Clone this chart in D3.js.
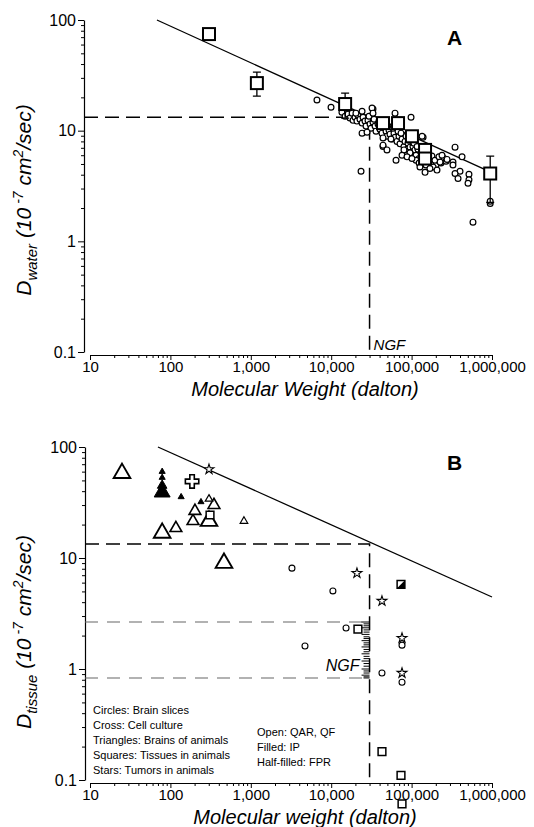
<!DOCTYPE html>
<html>
<head>
<meta charset="utf-8">
<script src="https://cdn.jsdelivr.net/npm/d3@7"></script>
<style>
  body { margin: 0; background: #fff; }
  svg { display: block; }
  text { font-family: "Liberation Sans", Arial, Helvetica, sans-serif; fill: #000; }
</style>
</head>
<body>
<div id="chart"></div>
<script>
// ---- data ----
const xTicks = [10, 100, 1000, 10000, 100000, 1000000];
const yTicks = [0.1, 1, 10, 100];

// straight line drawn through the water data (same in both panels)
const fitLineA = [[68, 100], [850000, 4.4]];
const fitLineB = [[70, 100], [1000000, 4.45]];

// NGF reference
const ngfMW = 30000;
const ngfDwater = 13.2;
const ngfDtissue = 13.4;
const ngfTissueBounds = [2.65, 0.83];
const ngfTissueValues = [2.65, 2.55, 2.45, 2.35, 2.25, 2.15, 2.05, 1.95, 1.88, 1.8, 1.72, 1.65,
  1.58, 1.5, 1.43, 1.37, 1.3, 1.24, 1.18, 1.12, 1.06, 1.0, 0.96, 0.92, 0.88, 0.85, 0.83];

// panel A: averaged water values with error bars [mw, D, hi, lo]
const waterSquares = [
  [302, 74.6, null, null],
  [1190, 26.9, 33.8, 20.5],
  [14900, 17.4, 21.8, 13.0],
  [44100, 11.7, null, null],
  [67800, 11.7, 13.2, null],
  [101000, 8.9, null, null],
  [147000, 6.7, null, null],
  [147000, 5.6, null, null],
  [950000, 4.1, 5.9, 2.25]
];

// panel A: individual water values [mw, D]
const waterCircles = [
  [6650, 18.9], [9950, 16.3], [13600, 14.7], [14900, 13.5], [16200, 14.1], [17100, 13.0],
  [18200, 14.4], [18700, 12.4], [19800, 13.2], [20900, 12.2], [21500, 13.8], [22800, 12.7],
  [24200, 11.7], [24900, 13.2], [26300, 12.2], [27100, 11.0], [28700, 12.4], [30400, 11.5],
  [31300, 10.5], [33100, 11.9], [35100, 11.0], [36100, 9.9], [38200, 11.5], [40400, 10.3],
  [42800, 9.5], [45400, 10.8], [48100, 9.9], [49400, 8.9], [52400, 10.1], [53900, 9.3],
  [57100, 8.4], [60400, 9.5], [62200, 8.7], [65800, 8.0], [69700, 8.9], [71800, 7.6],
  [76000, 8.4], [80400, 7.2], [82800, 8.0], [87700, 6.8], [90200, 7.7], [95500, 7.1],
  [101000, 6.4], [104000, 7.2], [110000, 6.7], [113500, 6.0], [120000, 6.8], [124000, 5.6],
  [131000, 6.3], [139000, 5.8], [143000, 5.2], [156000, 5.4], [165000, 5.0], [174000, 5.6],
  [185000, 5.2], [201000, 4.9], [213000, 5.4], [232000, 5.1], [253000, 5.6], [268000, 5.3],
  [20300, 14.4], [29500, 13.5], [34100, 12.7], [39300, 12.2], [46700, 11.5], [50900, 11.0],
  [58700, 10.5], [67800, 9.9], [73900, 9.5], [85300, 8.9], [93000, 8.2], [107000, 7.7],
  [117000, 7.2], [135000, 6.8], [151000, 6.4], [160000, 6.0], [179000, 5.9], [195000, 5.4],
  [219000, 5.8], [239000, 6.0], [80400, 6.7], [95500, 6.3], [113500, 5.4], [124000, 5.1],
  [151000, 4.9],
  [23500, 4.3], [62200, 14.4], [98400, 13.2], [33100, 15.7], [32200, 16.0], [33100, 14.4],
  [24200, 15.0], [24200, 9.5], [27900, 9.7], [139000, 8.7], [135000, 8.9], [44100, 7.2],
  [44100, 7.4], [49400, 6.7], [64000, 5.4], [76000, 6.0], [87700, 5.8], [101000, 5.6],
  [127000, 4.7], [147000, 4.2], [185000, 4.7], [226000, 5.2], [276000, 5.5], [207000, 4.4],
  [169000, 4.55], [55400, 8.4], [44100, 8.6],
  [347000, 7.1], [424000, 5.8], [327000, 5.2], [327000, 4.9], [400000, 4.3], [347000, 4.1],
  [378000, 3.7], [517000, 4.04], [517000, 3.6], [503000, 3.35], [580000, 1.49],
  [950000, 2.2], [950000, 2.3]
];

// panel B: tissue values by symbol [mw, D]
const openTriLarge = [[25, 58], [79, 16.8], [302, 21.5], [464, 9.0]];
const openTriMid = [[117, 18.6], [191, 21.5], [202, 26.5], [348, 30]];
const openTriSmall = [[302, 34], [822, 21.5]];
const filledTriLarge = [[79, 39]];
const filledTriMid = [[79, 45]];
const filledTriSmall = [[79, 53], [79, 60], [136, 35.5], [240, 32]];
const crosses = [[186, 49]];
const stars = [[302, 63], [20900, 7.3], [42800, 4.1], [76000, 1.9], [76000, 0.92]];
const circlesB = [[3250, 8.1], [10500, 5.05], [15300, 2.34], [4720, 1.61], [76000, 1.64],
  [42800, 0.92], [76000, 0.76]];
const openSquaresB = [[311, 24.4], [21500, 2.29], [42800, 0.18], [73800, 0.11], [76000, 0.061]];
const halfSquaresB = [[73800, 5.8]];

const legendShapes = ["Circles: Brain slices", "Cross: Cell culture", "Triangles: Brains of animals",
  "Squares:  Tissues in animals", "Stars: Tumors in animals"];
const legendFills = ["Open: QAR, QF", "Filled: IP", "Half-filled: FPR"];

// ---- layout ----
const width = 534, height = 827;
const svg = d3.select('#chart').append('svg')
  .attr('width', width).attr('height', height);
svg.append('rect').attr('width', width).attr('height', height).attr('fill', '#fff');

const x = d3.scaleLog().domain([10, 1e6]).range([90, 492]);
const yA = d3.scaleLog().domain([0.1, 100]).range([352, 20]);
const yB = d3.scaleLog().domain([0.1, 100]).range([780, 447]);

const minorX = [], minorY = [];
xTicks.slice(0, -1).forEach(t => { for (let k = 2; k < 10; k++) minorX.push(t * k); });
yTicks.slice(0, -1).forEach(t => { for (let k = 2; k < 10; k++) minorY.push(t * k); });

function drawAxes(y, axisX, axisY) {
  const fmt = d3.format(',');
  const yg = svg.append('g').attr('transform', `translate(${axisX},0)`)
    .call(d3.axisLeft(y).tickValues(yTicks).tickFormat(d => d < 1 ? '0.1' : fmt(d))
      .tickSize(6).tickSizeOuter(0).tickPadding(2));
  svg.append('g').attr('transform', `translate(${axisX},0)`)
    .call(d3.axisLeft(y).tickValues(minorY).tickFormat('').tickSize(3).tickSizeOuter(0))
    .select('.domain').remove();
  const xg = svg.append('g').attr('transform', `translate(0,${axisY})`)
    .call(d3.axisBottom(x).tickValues(xTicks).tickFormat(fmt).tickSize(5).tickSizeOuter(0).tickPadding(1));
  svg.append('g').attr('transform', `translate(0,${axisY})`)
    .call(d3.axisBottom(x).tickValues(minorX).tickFormat('').tickSize(3).tickSizeOuter(0))
    .select('.domain').remove();
  yg.selectAll('text').style('font-size', '16px').attr('font-family', null);
  xg.selectAll('text').style('font-size', '15px').attr('font-family', null);
  [yg, xg].forEach(g => g.selectAll('path, line').attr('stroke', '#000').attr('stroke-width', 1.2));
  svg.selectAll('.tick line').attr('stroke-width', 1);
}

function yTitle(cx, cy, sub) {
  const t = svg.append('text')
    .attr('transform', `translate(${cx},${cy}) rotate(-90)`)
    .attr('text-anchor', 'middle')
    .style('font-size', '21px').style('font-style', 'italic');
  t.append('tspan').text('D');
  t.append('tspan').attr('dy', 6).style('font-size', '15px').text(sub);
  t.append('tspan').attr('dy', -6).text(' (10');
  t.append('tspan').attr('dy', -8).style('font-size', '14px').text(' -7');
  t.append('tspan').attr('dy', 8).text(' cm');
  t.append('tspan').attr('dy', -8).style('font-size', '14px').text('2');
  t.append('tspan').attr('dy', 8).text('/sec)');
}

function xTitle(y0, label) {
  svg.append('text').attr('x', 305).attr('y', y0).attr('text-anchor', 'middle')
    .style('font-size', '20px').style('font-style', 'italic').text(label);
}

const line = y => d3.line().x(d => x(d[0])).y(d => y(d[1]));

// ================= panel A =================
drawAxes(yA, 84, 355);
yTitle(31, 200, 'water');
xTitle(396, 'Molecular Weight (dalton)');
svg.append('text').attr('x', 447).attr('y', 45).style('font-size', '21px')
  .style('font-weight', 'bold').text('A');

svg.append('path').datum(fitLineA).attr('d', line(yA))
  .attr('fill', 'none').attr('stroke', '#000').attr('stroke-width', 1.3);

svg.append('path')
  .attr('d', `M${84},${yA(ngfDwater)}H${x(ngfMW)}V${355}`)
  .attr('fill', 'none').attr('stroke', '#000').attr('stroke-width', 1.5)
  .attr('stroke-dasharray', '14,7');
svg.append('text').attr('x', x(ngfMW) + 4).attr('y', 350)
  .style('font-size', '15px').style('font-style', 'italic').text('NGF');

svg.append('g').selectAll('circle').data(waterCircles).enter().append('circle')
  .attr('cx', d => x(d[0])).attr('cy', d => yA(d[1])).attr('r', 2.9)
  .attr('fill', '#fff').attr('stroke', '#000').attr('stroke-width', 1.2);

const sq = svg.append('g').selectAll('g').data(waterSquares).enter().append('g');
sq.filter(d => d[2] !== null).append('path')
  .attr('d', d => `M${x(d[0])},${yA(d[1])}V${yA(d[2])}M${x(d[0]) - 4},${yA(d[2])}h8`)
  .attr('stroke', '#000').attr('stroke-width', 1.3);
sq.filter(d => d[3] !== null).append('path')
  .attr('d', d => `M${x(d[0])},${yA(d[1])}V${yA(d[3])}M${x(d[0]) - 4},${yA(d[3])}h8`)
  .attr('stroke', '#000').attr('stroke-width', 1.3);
sq.append('rect')
  .attr('x', d => x(d[0]) - 6).attr('y', d => yA(d[1]) - 6).attr('width', 12).attr('height', 12)
  .attr('fill', '#fff').attr('stroke', '#000').attr('stroke-width', 2);

// ================= panel B =================
drawAxes(yB, 85, 783);
yTitle(31, 632, 'tissue');
xTitle(824, 'Molecular weight (dalton)');
svg.append('text').attr('x', 447).attr('y', 470).style('font-size', '21px')
  .style('font-weight', 'bold').text('B');

svg.append('path').datum(fitLineB).attr('d', line(yB))
  .attr('fill', 'none').attr('stroke', '#000').attr('stroke-width', 1.3);

svg.append('path')
  .attr('d', `M${85},${yB(ngfDtissue)}H${x(ngfMW)}V${783}`)
  .attr('fill', 'none').attr('stroke', '#000').attr('stroke-width', 1.5)
  .attr('stroke-dasharray', '14,7');
svg.append('g').selectAll('path').data(ngfTissueBounds).enter().append('path')
  .attr('d', d => `M${85},${yB(d)}H${x(ngfMW)}`)
  .attr('stroke', '#666').attr('stroke-width', 1.2).attr('stroke-dasharray', '13,9');
svg.append('g').selectAll('path').data(ngfTissueValues).enter().append('path')
  .attr('d', (d, i) => `M${x(ngfMW) - (i % 3 === 0 ? 8 : 6)},${yB(d)}H${x(ngfMW)}`)
  .attr('stroke', '#000').attr('stroke-width', 1);
svg.append('text').attr('x', x(ngfMW) - 10).attr('y', yB(0.95)).attr('text-anchor', 'end')
  .style('font-size', '16px').style('font-style', 'italic').text('NGF');

function symbols(data, type, area, fill, sw) {
  svg.append('g').selectAll('path').data(data).enter().append('path')
    .attr('transform', d => `translate(${x(d[0])},${yB(d[1])})`)
    .attr('d', d3.symbol(type, area))
    .attr('fill', fill).attr('stroke', '#000').attr('stroke-width', sw);
}
symbols(openTriLarge, d3.symbolTriangle, 120, '#fff', 1.9);
symbols(openTriMid, d3.symbolTriangle, 60, '#fff', 1.6);
symbols(openTriSmall, d3.symbolTriangle, 25, '#fff', 1.2);
symbols(filledTriLarge, d3.symbolTriangle, 110, '#000', 1);
symbols(filledTriMid, d3.symbolTriangle, 40, '#000', 1);
symbols(filledTriSmall, d3.symbolTriangle, 16, '#000', 1);
symbols(crosses, d3.symbolCross, 100, '#fff', 1.6);
symbols(stars, d3.symbolStar, 30, '#fff', 1.1);
symbols(circlesB, d3.symbolCircle, 28, '#fff', 1.1);
symbols(openSquaresB, d3.symbolSquare, 60, '#fff', 1.5);
symbols(halfSquaresB, d3.symbolSquare, 60, '#fff', 1.5);
svg.append('g').selectAll('path').data(halfSquaresB).enter().append('path')
  .attr('transform', d => `translate(${x(d[0])},${yB(d[1])})`)
  .attr('d', 'M3.9,-3.9L3.9,3.9L-3.9,3.9Z').attr('fill', '#000');

svg.append('g').selectAll('text').data(legendShapes).enter().append('text')
  .attr('x', 93).attr('y', (d, i) => 714 + i * 15)
  .style('font-size', '11px').text(d => d);
svg.append('g').selectAll('text').data(legendFills).enter().append('text')
  .attr('x', 257).attr('y', (d, i) => 736 + i * 15)
  .style('font-size', '11px').text(d => d);
</script>
</body>
</html>
